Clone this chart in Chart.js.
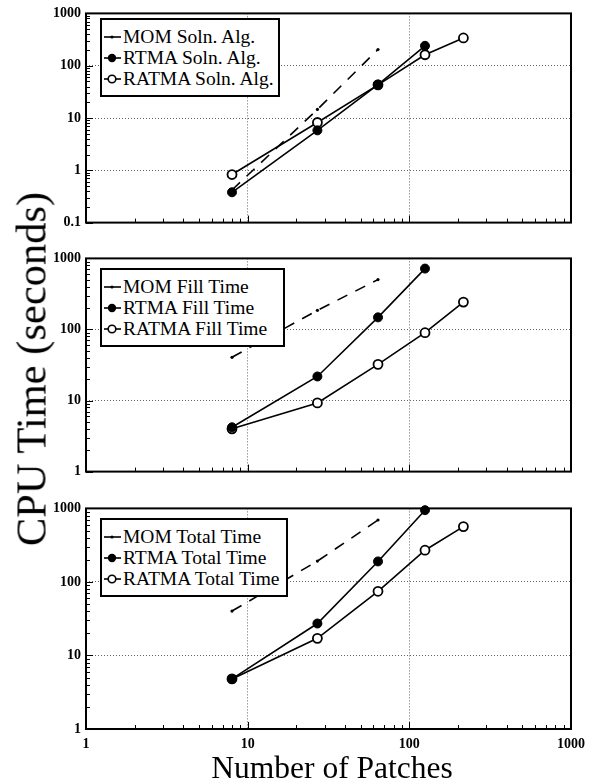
<!DOCTYPE html>
<html lang="en">
<head>
    <meta charset="UTF-8">
    <title>CPU Time vs Number of Patches</title>
    <script src="https://cdn.jsdelivr.net/npm/chart.js@4.4.0/dist/chart.umd.min.js"></script>
    <style>
        body { margin: 0; background: #fff; font-family: 'Liberation Serif', 'DejaVu Serif', serif; }
        #wrap { position: relative; width: 599px; height: 784px; overflow: hidden; }
        canvas { position: absolute; left: 0; }
        .legend {
            position: absolute; left: 100px; width: 178px;
            border: 2px solid #000; background: #fff;
            padding: 6px 0 0 0; box-sizing: border-box;
            font-size: 19.5px; line-height: 21px; color: #000;
        }
        .legend div { white-space: nowrap; }
        .legend svg { vertical-align: middle; margin: 0 1px 3px 1px; }
        #ytitle {
            position: absolute; left: 31px; top: 369px;
            transform: translate(-50%, -50%) rotate(-90deg);
            font-size: 42.5px; white-space: nowrap; color: #000;
        }
        #xtitle {
            position: absolute; left: 332px; top: 768px;
            transform: translate(-50%, -50%);
            font-size: 31.5px; white-space: nowrap; color: #000;
        }
    </style>
</head>
<body>
<div id="wrap">
    <canvas id="c1" width="599" height="236" style="top:0px"></canvas>
    <canvas id="c2" width="599" height="240" style="top:245px"></canvas>
    <canvas id="c3" width="599" height="260" style="top:495px"></canvas>
    <div id="ytitle">CPU Time (seconds)</div>
    <div id="xtitle">Number of Patches</div>
</div>

<script>
    // number of patches (x values)
    const patches = [8, 27, 64, 125, 216];
    const xTicks = [1, 10, 100, 1000];

    // panel 1: solution algorithm
    const momSoln = [0.42, 14.6, 204];
    const rtmaSoln = [0.38, 5.8, 43.6, 240];
    const ratmaSoln = [0.83, 8.2, 43, 162, 339];

    // panel 2: fill time
    const momFill = [40.6, 186, 503];
    const rtmaFill = [4.2, 21.8, 148, 719];
    const ratmaFill = [4.0, 9.25, 32.3, 90, 243];

    // panel 3: total time
    const momTotal = [40.2, 192, 695];
    const rtmaTotal = [4.8, 27.2, 190, 946];
    const ratmaTotal = [4.8, 17.1, 74.6, 270, 566];

    const labels1 = ['MOM Soln. Alg.', 'RTMA Soln. Alg.', 'RATMA Soln. Alg.'];
    const labels2 = ['MOM Fill Time', 'RTMA Fill Time', 'RATMA Fill Time'];
    const labels3 = ['MOM Total Time', 'RTMA Total Time', 'RATMA Total Time'];

    const toPoints = vals => vals.map((v, i) => ({ x: patches[i], y: v }));

    // frame + small inside ticks on the log axes
    const framePlugin = {
        id: 'frame',
        beforeDatasetsDraw(chart) {
            const { ctx, chartArea: a, scales } = chart;
            ctx.save();
            ctx.strokeStyle = '#000';
            ctx.lineWidth = 1;
            const ys = scales.y, xs = scales.x;
            for (let e = -1; e <= 3; e++) {
                for (let m = 1; m <= 9; m++) {
                    const v = m * Math.pow(10, e);
                    const len = m === 1 ? 7 : 4;
                    if (v >= ys.min && v <= ys.max) {
                        const py = Math.round(ys.getPixelForValue(v)) + 0.5;
                        ctx.beginPath();
                        ctx.moveTo(a.left, py);
                        ctx.lineTo(a.left + len, py);
                        ctx.stroke();
                    }
                    if (v >= xs.min && v <= xs.max) {
                        const px = Math.round(xs.getPixelForValue(v)) + 0.5;
                        ctx.beginPath();
                        ctx.moveTo(px, a.bottom);
                        ctx.lineTo(px, a.bottom - len);
                        ctx.stroke();
                    }
                }
            }
            ctx.lineWidth = 2;
            ctx.strokeRect(a.left, a.top, a.right - a.left, a.bottom - a.top);
            ctx.restore();
        }
    };

    function makeChart(id, mom, rtma, ratma, yMin, topPad, xHeight, showX) {
        const decades = [];
        for (let v = yMin; v <= 1000.0001; v *= 10) decades.push(Math.round(v * 10) / 10);
        const tickFont = { family: "'Liberation Serif', serif", size: 14, weight: 'bold' };
        return new Chart(document.getElementById(id), {
            type: 'line',
            data: {
                datasets: [
                    {
                        data: toPoints(mom),
                        borderColor: '#000', backgroundColor: '#000',
                        borderWidth: 1.6, borderDash: [11, 9],
                        pointRadius: 1.6, pointBorderWidth: 0,
                        clip: false
                    },
                    {
                        data: toPoints(rtma),
                        borderColor: '#000', backgroundColor: '#000',
                        borderWidth: 1.6,
                        pointRadius: 4.5, pointBorderWidth: 1,
                        clip: false
                    },
                    {
                        data: toPoints(ratma),
                        borderColor: '#000', backgroundColor: '#fff',
                        borderWidth: 1.6,
                        pointRadius: 4.5, pointBorderWidth: 1.8,
                        clip: false
                    }
                ]
            },
            options: {
                responsive: false,
                animation: false,
                layout: { padding: { top: topPad, right: 28, left: 0, bottom: 0 } },
                plugins: { legend: { display: false }, tooltip: { enabled: false } },
                scales: {
                    x: {
                        type: 'logarithmic', min: 1, max: 1000,
                        afterBuildTicks: s => { s.ticks = xTicks.map(v => ({ value: v })); },
                        afterFit: s => { s.height = xHeight; },
                        ticks: {
                            display: showX, autoSkip: false, maxRotation: 0, padding: 7,
                            color: '#000', font: tickFont,
                            callback: v => String(v)
                        },
                        grid: { color: '#666', lineWidth: 1, drawTicks: false },
                        border: { display: false, dash: [1, 2] }
                    },
                    y: {
                        type: 'logarithmic', min: yMin, max: 1000,
                        afterBuildTicks: s => { s.ticks = decades.map(v => ({ value: v })); },
                        afterFit: s => { s.width = 86; },
                        ticks: {
                            autoSkip: false, padding: 5, color: '#000', font: tickFont,
                            callback: v => (v < 1 ? '0.1' : String(Math.round(v)))
                        },
                        grid: { color: '#666', lineWidth: 1, drawTicks: false },
                        border: { display: false, dash: [1, 2] }
                    }
                }
            },
            plugins: [framePlugin]
        });
    }

    makeChart('c1', momSoln, rtmaSoln, ratmaSoln, 0.1, 6, 7, false);
    makeChart('c2', momFill, rtmaFill, ratmaFill, 1, 10, 7, false);
    makeChart('c3', momTotal, rtmaTotal, ratmaTotal, 1, 10, 26, true);

    // legends drawn as HTML boxes inside the plot areas
    function sample(kind) {
        let mark = '';
        if (kind === 0) mark = '<circle cx="9" cy="6" r="1.6" fill="#000"/>';
        if (kind === 1) mark = '<circle cx="9" cy="6" r="4.2" fill="#000"/>';
        if (kind === 2) mark = '<circle cx="9" cy="6" r="3.8" fill="#fff" stroke="#000" stroke-width="1.6"/>';
        return '<svg width="19" height="12"><line x1="1" y1="6" x2="18" y2="6" stroke="#000" stroke-width="1.6"/>' + mark + '</svg>';
    }
    function makeLegend(labels, top, width) {
        const box = document.createElement('div');
        box.className = 'legend';
        box.style.top = top + 'px';
        box.style.width = width + 'px';
        box.style.height = '79px';
        labels.forEach((t, i) => {
            const row = document.createElement('div');
            row.innerHTML = sample(i) + '<span>' + t + '</span>';
            box.appendChild(row);
        });
        document.getElementById('wrap').appendChild(box);
    }
    makeLegend(labels1, 18, 180);
    makeLegend(labels2, 268, 185);
    makeLegend(labels3, 518, 188);
</script>
</body>
</html>
